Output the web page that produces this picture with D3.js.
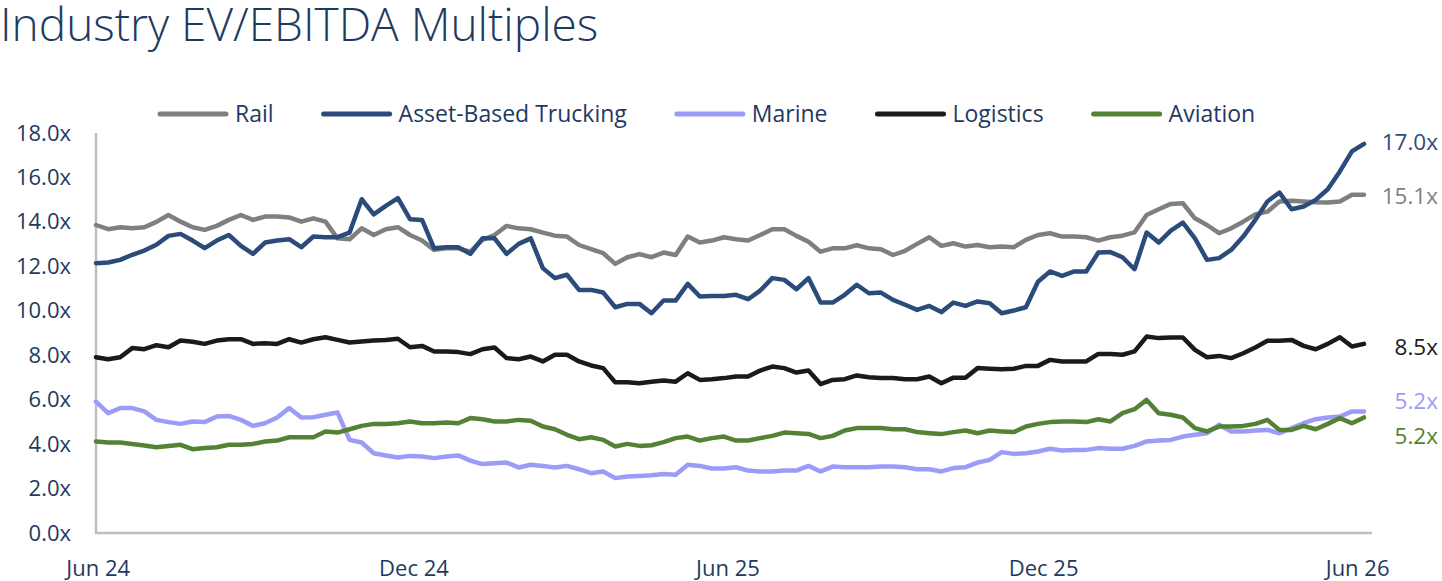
<!DOCTYPE html>
<html>
<head>
<meta charset="utf-8">
<script src="https://cdn.jsdelivr.net/npm/d3@7"></script>
<style>
  body { margin: 0; background: #fff; }
  svg text { font-family: "Open Sans", "Noto Sans", sans-serif; fill: #1f3a5f; }
</style>
</head>
<body>
<svg id="chart" width="1442" height="581"></svg>
<script>
// weekly observations, first one on 31 May 2024
var startDate = new Date(2024, 4, 31);
var weeks = 106;
var dates = d3.range(weeks).map(function(i) { return d3.timeWeek.offset(startDate, i); });

var tickDates = [new Date(2024, 5, 1), new Date(2024, 11, 1), new Date(2025, 5, 1), new Date(2025, 11, 1), new Date(2026, 5, 1)];
var yTicks = [0, 2, 4, 6, 8, 10, 12, 14, 16, 18];

var seriesNames = ["Rail", "Asset-Based Trucking", "Marine", "Logistics", "Aviation"];
var seriesColors = ["#7f7f7f", "#2b4c7a", "#9a9cf8", "#1a1a1a", "#548235"];
var endLabels = ["15.1x", "17.0x", "5.2x", "8.5x", "5.2x"];

var rail = [13.86,13.67,13.76,13.71,13.76,14.0,14.31,14.01,13.76,13.64,13.82,14.09,14.31,14.09,14.24,14.24,14.2,14.01,
  14.16,14.01,13.26,13.22,13.71,13.41,13.67,13.76,13.41,13.16,12.74,12.81,12.81,12.66,13.19,13.41,13.82,13.71,
  13.67,13.52,13.38,13.34,12.96,12.77,12.59,12.11,12.41,12.55,12.41,12.62,12.51,13.34,13.07,13.16,13.31,13.22,13.16,
  13.41,13.67,13.67,13.37,13.11,12.66,12.81,12.81,12.95,12.81,12.77,12.51,12.7,13.01,13.31,12.92,13.04,12.89,
  12.96,12.86,12.89,12.86,13.19,13.41,13.49,13.34,13.34,13.31,13.16,13.31,13.38,13.53,14.31,14.57,14.81,14.84,
  14.16,13.86,13.49,13.71,14.01,14.34,14.46,14.92,14.95,14.92,14.88,14.87,14.92,15.22,15.22];

var trucking = [12.14,12.17,12.29,12.52,12.71,12.97,13.37,13.46,13.16,12.82,13.16,13.41,12.92,12.56,13.07,13.16,13.22,12.86,
  13.34,13.31,13.31,13.52,15.02,14.34,14.72,15.07,14.12,14.09,12.81,12.86,12.86,12.56,13.26,13.26,12.56,13.01,
  13.26,11.92,11.47,11.62,10.94,10.94,10.82,10.16,10.31,10.31,9.89,10.46,10.46,11.21,10.64,10.67,10.67,10.72,10.52,
  10.91,11.47,11.39,10.97,11.47,10.37,10.37,10.72,11.17,10.79,10.82,10.49,10.27,10.04,10.22,9.94,10.37,10.22,
  10.42,10.34,9.89,10.01,10.16,11.31,11.77,11.57,11.77,11.77,12.62,12.64,12.41,11.87,13.52,13.07,13.61,13.97,
  13.26,12.29,12.37,12.74,13.34,14.09,14.92,15.32,14.57,14.69,14.99,15.47,16.27,17.17,17.51];

var marine = [5.91,5.39,5.62,5.62,5.47,5.09,4.99,4.91,5.02,4.99,5.24,5.27,5.09,4.82,4.94,5.2,5.62,5.2,
  5.21,5.32,5.42,4.19,4.07,3.59,3.49,3.4,3.47,3.44,3.37,3.44,3.49,3.26,3.1,3.14,3.17,2.95,
  3.07,3.02,2.95,3.02,2.87,2.69,2.77,2.47,2.54,2.57,2.6,2.65,2.62,3.07,3.02,2.9,2.9,2.96,2.81,
  2.77,2.77,2.81,2.81,3.02,2.77,2.99,2.96,2.96,2.96,2.99,2.99,2.96,2.87,2.87,2.77,2.92,2.96,
  3.17,3.29,3.64,3.56,3.59,3.67,3.79,3.71,3.74,3.74,3.82,3.79,3.79,3.92,4.12,4.16,4.19,4.34,
  4.42,4.49,4.87,4.57,4.57,4.61,4.64,4.49,4.72,4.94,5.12,5.2,5.24,5.47,5.47];

var logistics = [7.91,7.82,7.91,8.32,8.27,8.45,8.36,8.66,8.61,8.51,8.66,8.72,8.72,8.51,8.54,8.51,8.72,8.57,
  8.72,8.81,8.69,8.57,8.62,8.66,8.69,8.74,8.36,8.42,8.17,8.17,8.14,8.05,8.27,8.35,7.87,7.82,
  7.94,7.72,8.02,8.02,7.72,7.54,7.42,6.78,6.78,6.74,6.81,6.86,6.81,7.19,6.89,6.92,6.97,7.04,7.04,
  7.31,7.49,7.42,7.22,7.31,6.7,6.89,6.92,7.09,7.01,6.97,6.97,6.92,6.92,7.04,6.74,6.99,6.99,
  7.42,7.39,7.37,7.39,7.52,7.52,7.79,7.72,7.72,7.72,8.06,8.06,8.02,8.17,8.84,8.77,8.8,8.8,
  8.24,7.91,7.97,7.87,8.09,8.35,8.65,8.65,8.69,8.42,8.27,8.51,8.81,8.39,8.51];

var aviation = [4.12,4.07,4.07,4.01,3.94,3.86,3.92,3.97,3.77,3.82,3.86,3.97,3.97,4.01,4.12,4.16,4.31,4.31,
  4.31,4.57,4.52,4.67,4.82,4.91,4.91,4.94,5.02,4.94,4.94,4.97,4.94,5.17,5.12,5.02,5.02,5.09,
  5.05,4.79,4.67,4.42,4.22,4.31,4.19,3.89,4.01,3.92,3.95,4.09,4.27,4.34,4.16,4.27,4.34,4.16,4.16,
  4.27,4.37,4.52,4.49,4.46,4.27,4.37,4.61,4.72,4.72,4.72,4.67,4.67,4.54,4.49,4.45,4.54,4.61,
  4.49,4.61,4.57,4.54,4.79,4.91,4.99,5.02,5.02,4.99,5.12,5.02,5.39,5.57,5.99,5.39,5.32,5.2,
  4.72,4.57,4.79,4.79,4.82,4.91,5.09,4.64,4.64,4.82,4.67,4.91,5.17,4.94,5.2];

var allSeries = [rail, trucking, marine, logistics, aviation];
// small vertical nudges so the end labels don't collide
var labelNudge = [1, -2, -10, 3, 19];

var svg = d3.select("#chart");

var x = d3.scaleTime()
    .domain([dates[0], dates[dates.length - 1]])
    .range([96, 1364]);

var y = d3.scaleLinear()
    .domain([0, 18])
    .range([533, 133]);

// titre
svg.append("text")
    .attr("x", 0)
    .attr("y", 41)
    .attr("font-size", "46px")
    .attr("font-weight", 300)
    .text("Industry EV/EBITDA Multiples");

// axe Y
var yAxis = svg.append("g")
    .attr("transform", "translate(96,0)")
    .call(d3.axisLeft(y).tickValues(yTicks).tickSize(0).tickPadding(25)
        .tickFormat(function(d) { return d.toFixed(1) + "x"; }));
yAxis.select(".domain").remove();
yAxis.selectAll("text")
    .attr("font-size", "22px")
    .attr("fill", "#1f3a5f")
    .style("font-family", null);

// axe X
var xAxis = svg.append("g")
    .attr("transform", "translate(0,533)")
    .call(d3.axisBottom(x).tickValues(tickDates).tickSize(0).tickPadding(27)
        .tickFormat(d3.timeFormat("%b %y")));
xAxis.select(".domain").remove();
xAxis.selectAll("text")
    .attr("font-size", "22px")
    .attr("fill", "#1f3a5f")
    .style("font-family", null);

// lignes des axes
svg.append("line")
    .attr("x1", 96).attr("x2", 96)
    .attr("y1", y(18)).attr("y2", y(0) + 1)
    .attr("stroke", "#bfbfbf").attr("stroke-width", 2.5);
svg.append("line")
    .attr("x1", 95).attr("x2", 1372)
    .attr("y1", y(0)).attr("y2", y(0))
    .attr("stroke", "#bfbfbf").attr("stroke-width", 2.5);

// séries
var line = d3.line()
    .x(function(d, i) { return x(dates[i]); })
    .y(function(d) { return y(d); });

svg.selectAll(".series")
    .data(allSeries)
    .enter()
    .append("path")
    .attr("class", "series")
    .attr("d", line)
    .attr("fill", "none")
    .attr("stroke", function(d, i) { return seriesColors[i]; })
    .attr("stroke-width", 4.5)
    .attr("stroke-linejoin", "round")
    .attr("stroke-linecap", "round");

// étiquettes de fin
svg.selectAll(".end-label")
    .data(allSeries)
    .enter()
    .append("text")
    .attr("class", "end-label")
    .attr("x", 1438)
    .attr("y", function(d, i) { return y(d[d.length - 1]) + labelNudge[i]; })
    .attr("dy", "0.35em")
    .attr("text-anchor", "end")
    .attr("font-size", "22.5px")
    .style("fill", function(d, i) { return seriesColors[i]; })
    .text(function(d, i) { return endLabels[i]; });

// légende
var legend = svg.append("g").attr("transform", "translate(0,114)");
var lx = 160;
seriesNames.forEach(function(name, i) {
    legend.append("line")
        .attr("x1", lx).attr("x2", lx + 66)
        .attr("y1", 0).attr("y2", 0)
        .attr("stroke", seriesColors[i])
        .attr("stroke-width", 5)
        .attr("stroke-linecap", "round");
    var t = legend.append("text")
        .attr("x", lx + 75)
        .attr("dy", "0.35em")
        .attr("font-size", "23px")
        .text(name);
    lx = lx + 75 + t.node().getComputedTextLength() + 50;
});
</script>
</body>
</html>
